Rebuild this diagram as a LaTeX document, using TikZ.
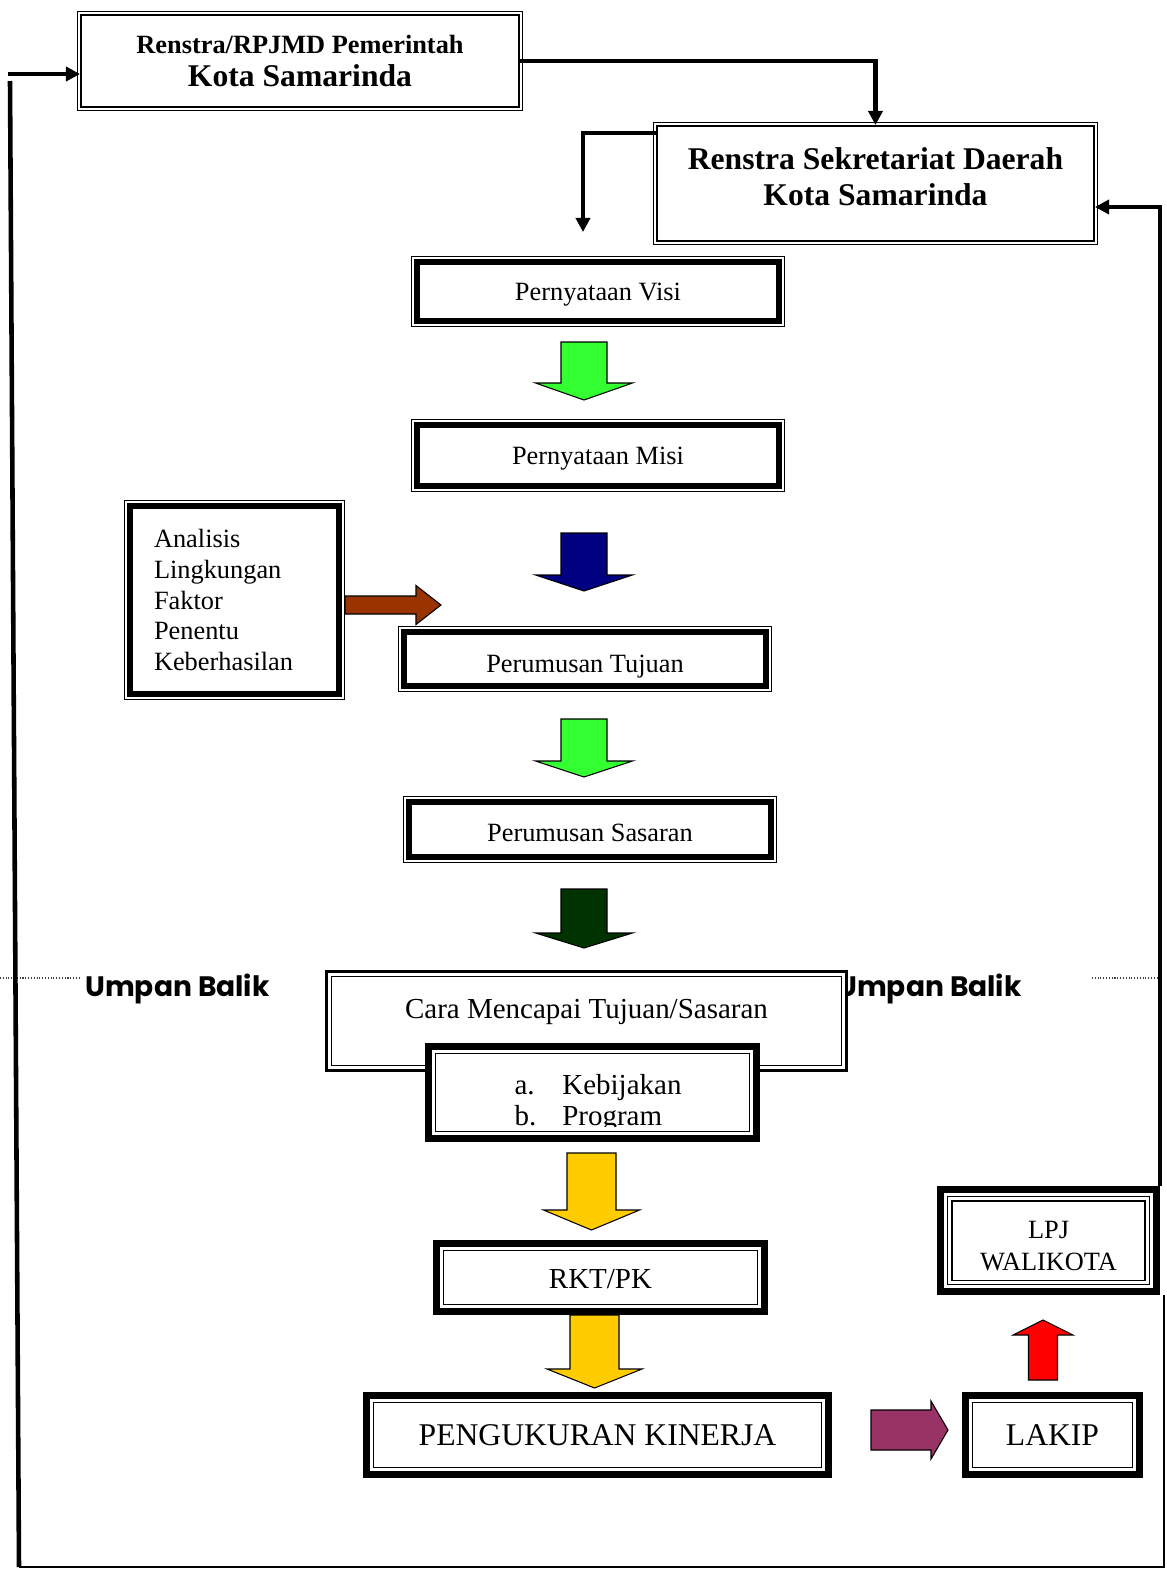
\documentclass[tikz,border=0pt]{standalone}
\usepackage{fontspec}
\setmainfont{Liberation Serif}
\newfontfamily\umpanfont{Poppins}
\usetikzlibrary{arrows.meta}
\definecolor{visigreen}{RGB}{51,255,51}
\definecolor{misinavy}{RGB}{0,0,128}
\definecolor{faktorbrown}{RGB}{153,51,0}
\definecolor{sasarangreen}{RGB}{0,51,0}
\definecolor{rktyellow}{RGB}{255,204,0}
\definecolor{lakippurple}{RGB}{153,51,102}
\newcommand{\blockv}[7]{\draw[blockarrow, fill=#1] (#2-#3,#5) -- (#2+#3,#5) -- (#2+#3,#6) -- (#2+#4,#6) -- (#2,#7) -- (#2-#4,#6) -- (#2-#3,#6) -- cycle;}
\newcommand{\blockh}[7]{\draw[blockarrow, fill=#1] (#5,#2-#3) -- (#5,#2+#3) -- (#6,#2+#3) -- (#6,#2+#4) -- (#7,#2) -- (#6,#2-#4) -- (#6,#2-#3) -- cycle;}

\begin{document}
\begin{tikzpicture}[x=0.02cm, y=-0.02cm, >={Triangle[length=8pt,width=8pt]},
    boxframe/.style={draw, fill=white, line width=#1, inner sep=0pt, align=center},
    boxsize/.style 2 args={minimum width=#1*0.02cm, minimum height=#2*0.02cm},
    conn/.style={line width=2.3pt},
    thinline/.style={line width=0.6pt},
    blockarrow/.style={draw, line width=0.6pt},
    boxtext/.style={font=\fontsize{15}{18}\selectfont, text height=10.5pt, text depth=0pt},
    bigtext/.style={font=\fontsize{18}{21}\selectfont, text height=12pt, text depth=0pt},
    feedback/.style={font=\umpanfont\bfseries\fontsize{16}{19}\selectfont}]
    \useasboundingbox (0,0) rectangle (1167,1573);
    % renstra
    \node[boxframe=1.4pt, boxsize={437.5}{91.5}, font=\bfseries\fontsize{18}{19.3}\selectfont] (rpjmd) at (300,61)
        {{\fontsize{15}{18}\selectfont Renstra/RPJMD Pemerintah}\\Kota Samarinda};
    \node[boxframe=1.4pt, boxsize={436.5}{114.5}, font=\bfseries\fontsize{18}{20.4}\selectfont, text depth=8pt] (sekda) at (875.5,183.5)
        {Renstra Sekretariat Daerah\\Kota Samarinda};
    % visi - sasaran
    \node[boxframe=3.4pt, boxsize={362}{59}, boxtext] (visi) at (598,291.5) {Pernyataan Visi};
    \node[boxframe=3.4pt, boxsize={362}{61}, boxtext] (misi) at (598,455.5) {Pernyataan Misi};
    \node[boxframe=3.4pt, boxsize={209}{188}, font=\fontsize{15}{17.5}\selectfont, align=left, text width=3.22cm] (analisis) at (234.5,600)
        {Analisis\\Lingkungan\\Faktor\\Penentu\\Keberhasilan};
    \node[boxframe=3.4pt, boxsize={362}{54}, boxtext, text height=15.9pt] (tujuan) at (585,659) {Perumusan Tujuan};
    \node[boxframe=3.4pt, boxsize={362}{55}, boxtext, text height=13.8pt] (sasaran) at (590,829.5) {Perumusan Sasaran};
    \foreach \n in {rpjmd,sekda,visi,misi,analisis,tujuan,sasaran}
        \draw[thinline] ([shift={(-2.5,-2.5)}]\n.north west) rectangle ([shift={(2.5,2.5)}]\n.south east);
    % umpan balik
    \coordinate (dotl) at (0,978);
    \coordinate (dotr) at (1092,978);
    \draw[densely dotted, line width=0.6pt, darkgray] (dotl) -- (80,978);
    \draw[densely dotted, line width=0.6pt, darkgray] (dotr) -- (1160,978);
    \node[feedback] (umpan1) at (177.5,989) {Umpan Balik};
    \node[feedback] (umpan2) at (929.5,989) {Umpan Balik};
    % cara mencapai
    \node[boxframe=1.7pt, boxsize={520}{99}] (cara) at (586.5,1021) {};
    \draw[thinline] ([shift={(6.5,6.5)}]cara.north west) rectangle ([shift={(-6.5,-6.5)}]cara.south east);
    \node[font=\fontsize{16.5}{20}\selectfont] (caratext) at ([shift={(0,42)}]cara.north) {Cara Mencapai Tujuan/Sasaran};
    \node[boxframe=4pt, boxsize={328}{92}] (kebijakan) at (592.5,1092.5) {};
    \begin{scope}
        \clip (kebijakan.north west) rectangle ([shift={(0,-16)}]kebijakan.south east);
        \node[font=\fontsize{16.5}{18.1}\selectfont, align=left] (kebtext) at (598,1103)
            {\makebox[1.65em][l]{a.}Kebijakan\\\makebox[1.65em][l]{b.}Program};
    \end{scope}
    % rkt - lakip
    \node[boxframe=4pt, boxsize={328}{68}, font=\fontsize{16.5}{20}\selectfont, text height=12pt, text depth=0pt] (rkt) at (600.5,1277.5) {RKT/PK};
    \node[boxframe=4pt, boxsize={462}{79}, bigtext] (ukur) at (597.5,1435) {PENGUKURAN KINERJA};
    \node[boxframe=4pt, boxsize={174}{79}, bigtext] (lakip) at (1052.5,1435) {LAKIP};
    \node[boxframe=4pt, boxsize={216}{102}, font=\fontsize{15}{18}\selectfont, text height=34.1pt, text depth=0pt] (lpj) at (1048.5,1240.5) {LPJ\\WALIKOTA};
    \foreach \n/\d in {kebijakan/10.5,rkt/10.5,ukur/10.5,lakip/10.5,lpj/10.5,lpj/15}
        \draw[thinline] ([shift={(\d,\d)}]\n.north west) rectangle ([shift={(-\d,-\d)}]\n.south east);
    % block arrows
    \blockv{visigreen}{584}{23}{48.5}{342}{383}{400}
    \blockv{misinavy}{584}{23}{48.5}{533}{575}{591}
    \blockh{faktorbrown}{605}{9}{19.5}{345}{416}{441}
    \blockv{visigreen}{584}{23}{48.5}{719}{761}{777}
    \blockv{sasarangreen}{584}{23}{48.5}{889}{933}{948}
    \blockv{rktyellow}{591.5}{24.5}{48}{1153}{1210}{1230}
    \blockv{rktyellow}{594.5}{24.5}{47.5}{1315}{1369}{1388}
    \blockh{lakippurple}{1430}{20}{29}{871}{931}{948}
    \blockv{red}{1043}{14.5}{30}{1380}{1335}{1320}
    % connectors
    \coordinate (visiin) at (583,232);
    \coordinate (fbin) at (8,74);
    \coordinate (tl) at (10,81);
    \coordinate (bl) at (19,1567);
    \coordinate (br) at (1164,1567);
    \draw[conn,->] (rpjmd.east) -| (sekda.north);
    \draw[conn,->] ([shift={(0,8)}]sekda.north west) -| (visiin);
    \draw[conn,->] (lpj.north east) |- ([shift={(0,23.5)}]sekda.east);
    \draw[thinline] (lpj.south east -| br) -- (br) -- (bl);
    \draw[line width=2.6pt] (bl) -- (tl);
    \draw[conn,->] (fbin) -- ([shift={(0,13)}]rpjmd.west);
\end{tikzpicture}
\end{document}
